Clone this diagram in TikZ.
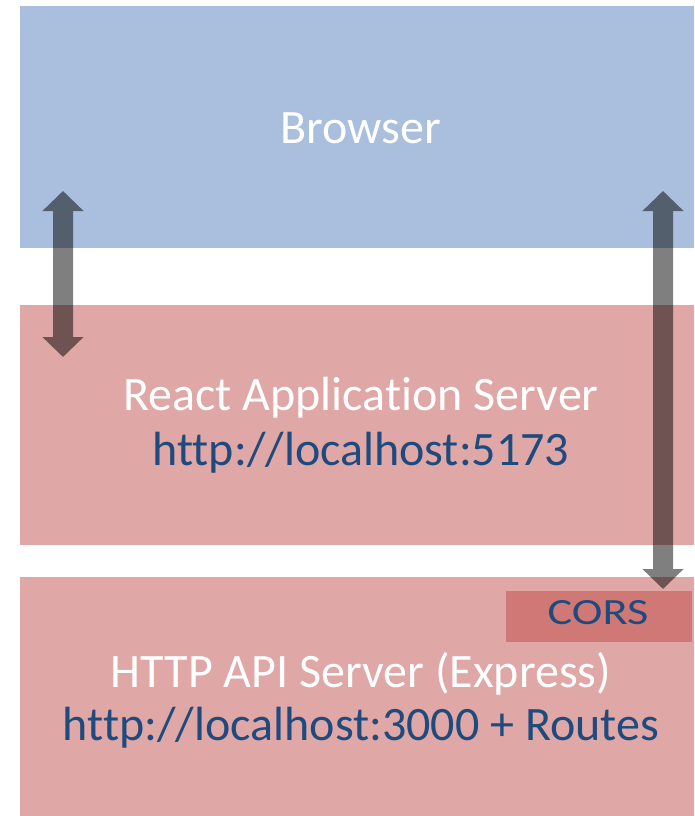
\documentclass[tikz,border=0pt]{standalone}
\usepackage{fontspec}
\setmainfont{Carlito}[Ligatures=NoCommon, RawFeature={-liga;-clig}]
\usetikzlibrary{arrows.meta}
\definecolor{bblue}{HTML}{A9BFDD}
\definecolor{bpink}{HTML}{DFA7A6}
\definecolor{bcors}{HTML}{D07876}
\definecolor{tblue}{HTML}{1F4A7E}
\tikzset{
  panel/.style={draw=none, inner sep=0pt, outer sep=0pt},
  wtext/.style={text=white, anchor=base, inner sep=0pt, font=\fontsize{48}{57}\selectfont},
  btext/.style={text=tblue, anchor=base, inner sep=0pt, font=\fontsize{48}{57}\selectfont},
  bigarrow/.style={line width=20pt, draw=black, {Triangle[length=20pt,width=40pt]}-{Triangle[length=20pt,width=40pt]}},
}
\begin{document}
\begin{tikzpicture}[x=1pt,y=-1pt]
\useasboundingbox (0,0) rectangle (694,816);
% panels
\node[panel, fill=bblue, minimum width=674pt, minimum height=242pt] (browser) at (357,127) {};
\node[panel, fill=bpink, minimum width=674pt, minimum height=240pt] (react) at (357,425) {};
\node[panel, fill=bpink, minimum width=674pt, minimum height=239pt] (api) at (357,696.5) {};
\node[panel, fill=bcors, minimum width=186pt, minimum height=51pt] (cors) at (599,616) {};
% texts
\node[wtext] (browsertxt) at (361,143) {Browser};
\node[wtext] (reacttxt) at (361,410) {React Application Server};
\node[btext] (reacturl) at (361,465) {http://localhost:5173};
\node[btext, font=\fontsize{37}{44}\selectfont, xscale=1.25] (corstxt) at (598,624) {CORS};
\node[wtext] (apitxt) at (361,687) {HTTP API Server (Express)};
\node[btext] (apiurl) at (361,740) {http://localhost:3000 + Routes};
% arrows
\coordinate (la) at (63,191);
\coordinate (lb) at (63,357);
\coordinate (ra) at (663,191);
\coordinate (rb) at (663,589);
\begin{scope}[transparency group, opacity=0.5]
\draw[bigarrow] (la) -- (lb);
\end{scope}
\begin{scope}[transparency group, opacity=0.5]
\draw[bigarrow] (ra) -- (rb);
\end{scope}
\end{tikzpicture}
\end{document}
